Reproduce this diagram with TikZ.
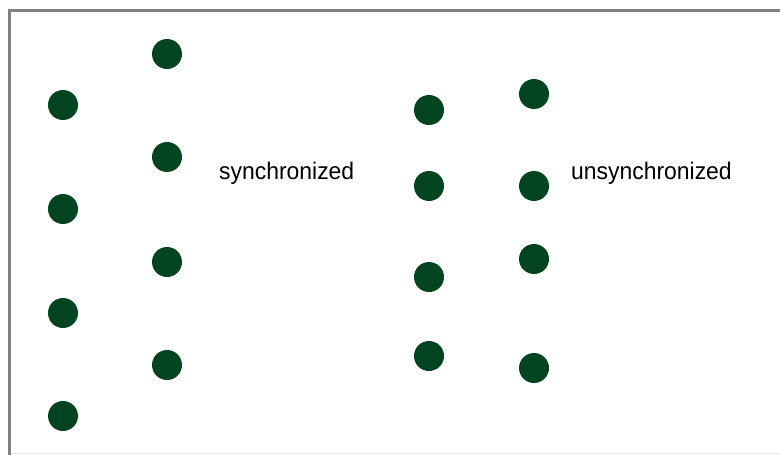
\documentclass[tikz,border=0pt]{standalone}
\usepackage{fontspec}
\setmainfont{Liberation Sans}
\definecolor{dotgreen}{RGB}{3,68,32}
\definecolor{framegray}{RGB}{128,128,128}
\definecolor{faintgray}{RGB}{232,232,232}
\begin{document}
\begin{tikzpicture}[x=1pt,y=-1pt,
  dot/.style={circle,fill=dotgreen,minimum size=30pt,inner sep=0pt},
  lbl/.style={font=\fontsize{24}{27}\selectfont,anchor=base west,inner sep=0pt,xscale=0.955}]
\useasboundingbox (0,0) rectangle (780,455);
\fill[white] (0,0) rectangle (780,455);
\draw[faintgray,line width=1.5pt] (9,453.5) -- (780,453.5);
\draw[framegray,line width=3pt] (9.5,455) -- (9.5,10.5) -- (780,10.5);
% column 1
\node[dot] (a1) at (63,105) {};
\node[dot] (a2) at (63,209) {};
\node[dot] (a3) at (63,313) {};
\node[dot] (a4) at (63,416) {};
% column 2
\node[dot] (b1) at (167,54) {};
\node[dot] (b2) at (167,157) {};
\node[dot] (b3) at (167,262) {};
\node[dot] (b4) at (167,365) {};
% column 3
\node[dot] (c1) at (429,110) {};
\node[dot] (c2) at (429,186) {};
\node[dot] (c3) at (429,277) {};
\node[dot] (c4) at (429,356) {};
% column 4
\node[dot] (d1) at (534,94) {};
\node[dot] (d2) at (534,186) {};
\node[dot] (d3) at (534,259) {};
\node[dot] (d4) at (534,368) {};
\node[lbl] (s) at (219,179) {synchronized};
\node[lbl] (u) at (571,179) {unsynchronized};
\end{tikzpicture}
\end{document}
